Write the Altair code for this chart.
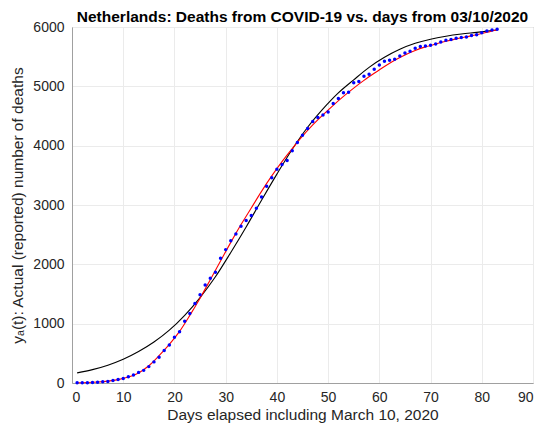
import altair as alt
import pandas as pd

# Reported cumulative deaths (blue dots), days 1..83
days = list(range(1, 84))
deaths = [3, 4, 5, 10, 12, 20, 24, 43, 58, 76,
          106, 136, 179, 213, 276, 356, 434, 546, 639, 771,
          864, 1039, 1173, 1339, 1487, 1651, 1766, 1867, 2101, 2248,
          2396, 2511, 2643, 2737, 2823, 2945, 3134, 3315, 3459, 3601,
          3684, 3751, 3916, 4054, 4177, 4289, 4409, 4475, 4518, 4566,
          4711, 4795, 4893, 4900, 5060, 5082, 5170, 5204, 5288, 5359,
          5422, 5440, 5456, 5510, 5562, 5590, 5643, 5670, 5680, 5694,
          5715, 5748, 5775, 5788, 5811, 5822, 5830, 5856, 5871, 5903,
          5931, 5951, 5962]

# Red fitted curve
red_days = [1, 3, 5, 7, 9, 11, 13, 15, 17, 19, 21, 23, 25, 27, 29, 31, 33, 35,
            37, 39, 41, 43, 45, 47, 49, 51, 53, 55, 57, 59, 61, 63, 65, 67, 69,
            71, 73, 75, 77, 79, 81, 83]
red_vals = [3, 8, 17, 32, 57, 100, 170, 290, 460, 650, 870, 1140, 1430, 1740,
            2055, 2370, 2670, 2950, 3230, 3490, 3730, 3950, 4160, 4350, 4520,
            4680, 4830, 4970, 5100, 5220, 5335, 5440, 5530, 5605, 5665, 5715,
            5760, 5800, 5835, 5870, 5910, 5955]

# Black logistic curve
blk_days = [1, 4, 7, 10, 13, 16, 19, 22, 25, 28, 31, 34, 37, 40, 43, 46, 49,
            52, 55, 58, 61, 64, 67, 70, 73, 76, 79, 83]
blk_vals = [170, 225, 300, 400, 530, 690, 890, 1140, 1440, 1790, 2200, 2630,
            3080, 3520, 3940, 4310, 4620, 4890, 5110, 5320, 5490, 5625, 5725,
            5795, 5845, 5882, 5910, 5950]

pts = pd.DataFrame({"day": days, "deaths": deaths})
red = pd.DataFrame({"day": red_days, "val": red_vals})
blk = pd.DataFrame({"day": blk_days, "val": blk_vals})

FONT = "Liberation Sans"

xscale = alt.Scale(domain=[0, 90], nice=False, zero=False)
yscale = alt.Scale(domain=[0, 6000], nice=False)

xaxis = alt.Axis(values=list(range(0, 91, 10)), title="Days elapsed including March 10, 2020",
                 format="d",
                 grid=True, gridColor="#ebebeb", domainColor="#a0a0a0", ticks=False,
                 labelFont=FONT, labelFontSize=14, labelColor="#262626", labelPadding=7,
                 titleFont=FONT, titleFontSize=15.5, titleFontWeight="normal",
                 titleColor="#262626", titlePadding=3)
yaxis = alt.Axis(values=list(range(0, 6001, 1000)),
                 title="yₐ(t): Actual (reported) number of deaths",
                 format="d",
                 grid=True, gridColor="#ebebeb", domainColor="#a0a0a0", ticks=False,
                 labelFont=FONT, labelFontSize=14, labelColor="#262626", labelPadding=8,
                 titleFont=FONT, titleFontSize=15.5, titleFontWeight="normal",
                 titleColor="#262626", titlePadding=7)

black_line = alt.Chart(blk).mark_line(color="black", strokeWidth=1.1,
                                       interpolate="monotone").encode(
    x=alt.X("day:Q", scale=xscale, axis=xaxis),
    y=alt.Y("val:Q", scale=yscale, axis=yaxis))

red_line = alt.Chart(red).mark_line(color="#ff0000", strokeWidth=1.1,
                                     interpolate="monotone").encode(
    x=alt.X("day:Q", scale=xscale),
    y=alt.Y("val:Q", scale=yscale))

dots = alt.Chart(pts).mark_circle(color="#0000ff", size=12, opacity=1).encode(
    x=alt.X("day:Q", scale=xscale),
    y=alt.Y("deaths:Q", scale=yscale))

chart = alt.layer(black_line, red_line, dots).properties(
    width=461, height=356,
    autosize="none",
    padding={"left": 64, "top": 19, "right": 9, "bottom": 45},
    title=alt.TitleParams("Netherlands: Deaths from COVID-19 vs. days from 03/10/2020",
                          font=FONT, fontSize=15.5, fontWeight="bold", color="black",
                          anchor="middle", offset=0, dy=5),
).configure_view(stroke="#a0a0a0", strokeWidth=1)

chart.save("out.html", embed_options={"renderer": "svg", "actions": False})
